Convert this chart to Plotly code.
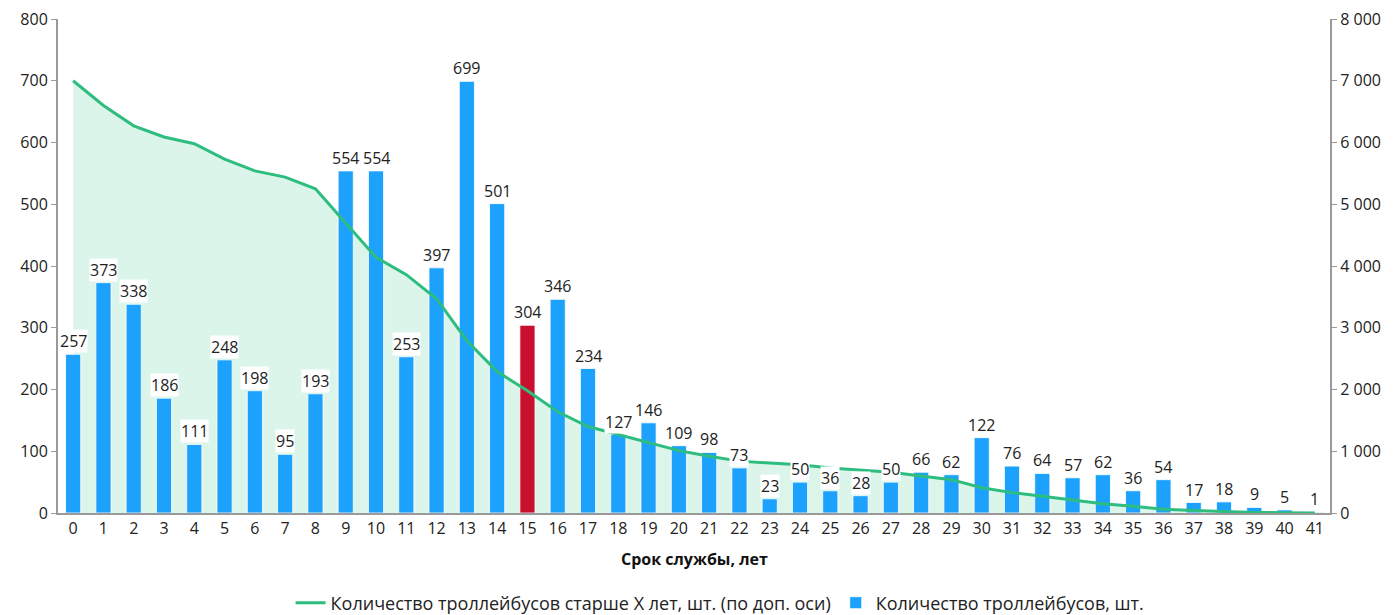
import plotly.graph_objects as go

ages = list(range(42))
bus_counts = [257, 373, 338, 186, 111, 248, 198, 95, 193, 554, 554, 253, 397, 699, 501, 304, 346, 234,
              127, 146, 109, 98, 73, 23, 50, 36, 28, 50, 66, 62, 122, 76, 64, 57, 62, 36, 54, 17, 18, 9, 5, 1]
older_than = [7000, 6600, 6270, 6090, 5980, 5730, 5540, 5440, 5250, 4690, 4140, 3860, 3470, 2790, 2290,
              1980, 1640, 1400, 1270, 1130, 1010, 920, 840, 810, 780, 730, 700, 660, 600, 540, 410, 330,
              270, 210, 150, 110, 60, 40, 20, 10, 5, 0]
highlight_age = 15

line_name = "Количество троллейбусов старше X лет, шт. (по доп. оси)"
bar_name = "Количество троллейбусов, шт."

BLUE = "#1ca1fc"
RED = "#c8102e"
GREEN = "#2dbd7e"
FILL = "#dcf5ea"
AXIS = "#9a9a9a"
FONT = "Open Sans"

bar_colors = [RED if a == highlight_age else BLUE for a in ages]

fig = go.Figure()
# area fill (behind bars), right-scale axis
fig.add_trace(go.Scatter(x=ages, y=older_than, mode="none", fill="tozeroy", fillcolor=FILL,
                         showlegend=False, hoverinfo="skip", yaxis="y"))
# bars on left axis
fig.add_trace(go.Bar(x=ages, y=bus_counts, name=bar_name, marker=dict(color=bar_colors,
                     line=dict(color="rgba(255,255,255,0.8)", width=1)), width=0.5,
                     yaxis="y2", legendrank=2))
# line on top
fig.add_trace(go.Scatter(x=ages, y=older_than, mode="lines", name=line_name,
                         line=dict(color=GREEN, width=3), yaxis="y3", legendrank=1))

annotations = []
for a, v in zip(ages, bus_counts):
    annotations.append(dict(x=a, y=v, xref="x", yref="y2", text=str(v), showarrow=False,
                            yanchor="bottom", yshift=1, bgcolor="white", borderpad=0,
                            font=dict(family=FONT, size=16, color="#222")))
annotations.append(dict(x=0.5, y=-46 / 494, xref="paper", yref="paper",
                        text="<b>Срок службы, лет</b>",
                        showarrow=False, yanchor="middle", xanchor="center",
                        font=dict(family=FONT, size=16, color="#111")))

fig.update_layout(
    width=1397, height=615,
    margin=dict(l=58, r=67, t=19, b=102, autoexpand=False),
    plot_bgcolor="white", paper_bgcolor="white",
    separators=", ",
    font=dict(family=FONT, size=16, color="#222"),
    bargap=0.5,
    showlegend=True,
    legend=dict(orientation="h", x=0.5205, xanchor="center", xref="paper",
                y=(615 - 603) / 615, yref="container", yanchor="middle",
                font=dict(family=FONT, size=18, color="#222"), traceorder="normal",
                itemwidth=30),
    xaxis=dict(range=[-0.5, 41.5], tickmode="array", tickvals=ages, ticktext=[str(a) for a in ages],
               showline=True, linecolor=AXIS, linewidth=2, ticks="", showgrid=False, zeroline=False,
               automargin=False, tickfont=dict(family=FONT, size=16, color="#222")),
    yaxis=dict(range=[0, 8000], side="right", tickvals=list(range(0, 8001, 1000)), tickformat=",d",
               showline=True, linecolor=AXIS, linewidth=2, ticks="outside", ticklen=5, tickcolor=AXIS,
               automargin=False,
               showgrid=False, zeroline=False, tickfont=dict(family=FONT, size=16, color="#222")),
    yaxis2=dict(range=[0, 800], side="left", overlaying="y", tickvals=list(range(0, 801, 100)),
                showline=True, linecolor=AXIS, linewidth=2, ticks="outside", ticklen=5, tickcolor=AXIS,
                automargin=False,
                showgrid=False, zeroline=False, tickfont=dict(family=FONT, size=16, color="#222")),
    yaxis3=dict(range=[0, 8000], overlaying="y", visible=False, showgrid=False, zeroline=False),
    annotations=annotations,
)

fig.write_html("out.html", config={"displayModeBar": False},
               post_script="document.body.style.margin='0';document.body.style.overflow='hidden';")
